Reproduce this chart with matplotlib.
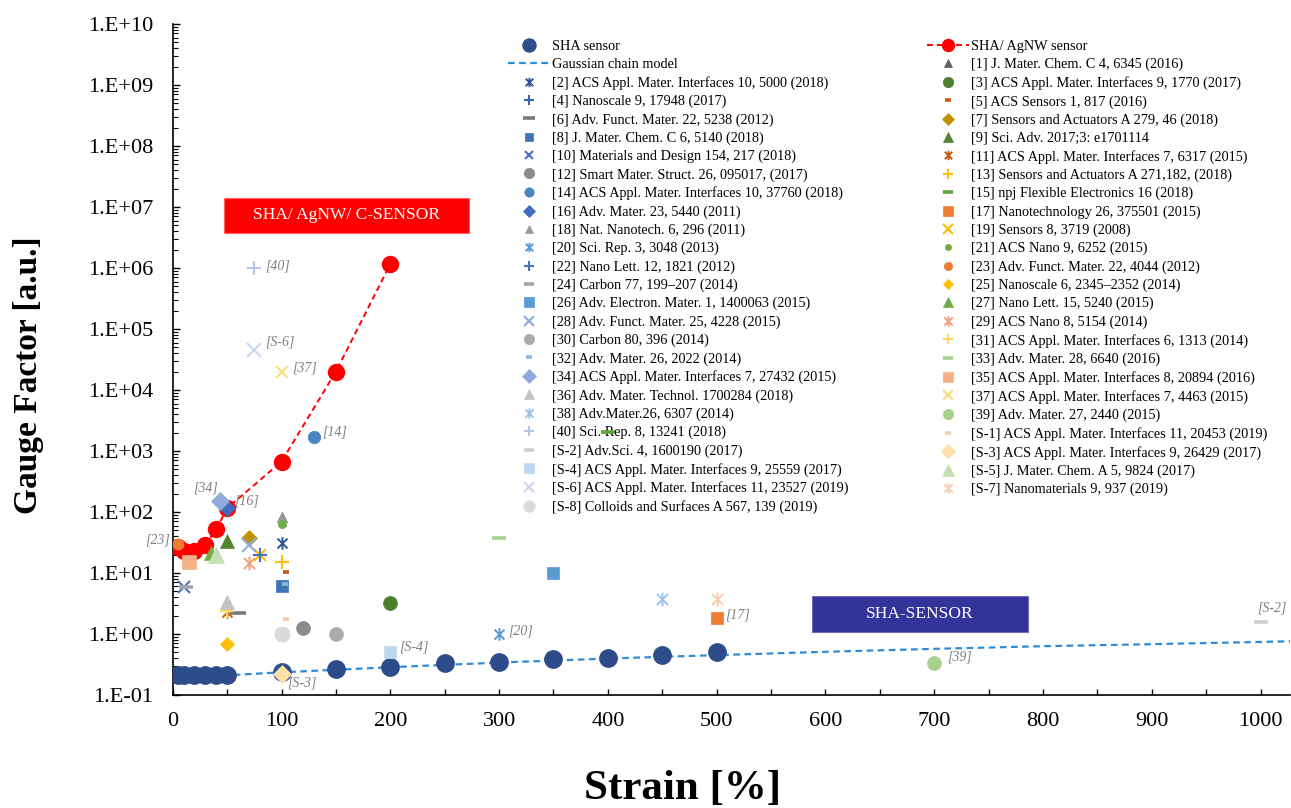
import math
import matplotlib
matplotlib.use("Agg")
import matplotlib.pyplot as plt
from matplotlib.path import Path
from matplotlib.patches import Rectangle
from matplotlib.ticker import FuncFormatter, LogLocator, MultipleLocator, NullFormatter

plt.rcParams['font.family'] = ['Liberation Serif', 'DejaVu Serif']

# ---- SHA sensor (measured) ----
sha_strain = [5, 10, 20, 30, 40, 50, 100, 150, 200, 250, 300, 350, 400, 450, 500]
sha_gf = [0.21, 0.21, 0.21, 0.21, 0.215, 0.215, 0.24, 0.27, 0.29, 0.335, 0.35,
          0.385, 0.40, 0.45, 0.50]

# ---- Gaussian chain model ----
gauss_strain = [5, 50, 100, 200, 300, 400, 500, 600, 700, 800, 900, 1000, 1030]
gauss_gf = [0.205, 0.21, 0.235, 0.285, 0.34, 0.395, 0.45, 0.51, 0.57, 0.63,
            0.68, 0.74, 0.76]

# ---- SHA/AgNW sensor ----
agnw_strain = [5, 10, 20, 30, 40, 50, 100, 150, 200]
agnw_gf = [27, 23, 23, 29, 52, 115, 670, 2.0e4, 1.16e6]

# ---- literature values ----
ref_keys = [str(i) for i in range(1, 41)] + ['S-%d' % i for i in range(1, 9)]
ref_sources = [
    "J. Mater. Chem. C 4, 6345 (2016)",
    "ACS Appl. Mater. Interfaces 10, 5000 (2018)",
    "ACS Appl. Mater. Interfaces 9, 1770 (2017)",
    "Nanoscale 9, 17948 (2017)",
    "ACS Sensors 1, 817 (2016)",
    "Adv. Funct. Mater. 22, 5238 (2012)",
    "Sensors and Actuators A 279, 46 (2018)",
    "J. Mater. Chem. C 6, 5140 (2018)",
    "Sci. Adv. 2017;3: e1701114",
    "Materials and Design 154, 217 (2018)",
    "ACS Appl. Mater. Interfaces 7, 6317 (2015)",
    "Smart Mater. Struct. 26, 095017, (2017)",
    "Sensors and Actuators A 271,182, (2018)",
    "ACS Appl. Mater. Interfaces 10, 37760 (2018)",
    "npj Flexible Electronics 16 (2018)",
    "Adv. Mater. 23, 5440 (2011)",
    "Nanotechnology 26, 375501 (2015)",
    "Nat. Nanotech. 6, 296 (2011)",
    "Sensors 8, 3719 (2008)",
    "Sci. Rep. 3, 3048 (2013)",
    "ACS Nano 9, 6252 (2015)",
    "Nano Lett. 12, 1821 (2012)",
    "Adv. Funct. Mater. 22, 4044 (2012)",
    "Carbon 77, 199\u2013207 (2014)",
    "Nanoscale 6, 2345\u20132352 (2014)",
    "Adv. Electron. Mater. 1, 1400063 (2015)",
    "Nano Lett. 15, 5240 (2015)",
    "Adv. Funct. Mater. 25, 4228 (2015)",
    "ACS Nano 8, 5154 (2014)",
    "Carbon 80, 396 (2014)",
    "ACS Appl. Mater. Interfaces 6, 1313 (2014)",
    "Adv. Mater. 26, 2022 (2014)",
    "Adv. Mater. 28, 6640 (2016)",
    "ACS Appl. Mater. Interfaces 7, 27432 (2015)",
    "ACS Appl. Mater. Interfaces 8, 20894 (2016)",
    "Adv. Mater. Technol. 1700284 (2018)",
    "ACS Appl. Mater. Interfaces 7, 4463 (2015)",
    "Adv.Mater.26, 6307 (2014)",
    "Adv. Mater. 27, 2440 (2015)",
    "Sci. Rep. 8, 13241 (2018)",
    "ACS Appl. Mater. Interfaces 11, 20453 (2019)",
    "Adv.Sci. 4, 1600190 (2017)",
    "ACS Appl. Mater. Interfaces 9, 26429 (2017)",
    "ACS Appl. Mater. Interfaces 9, 25559 (2017)",
    "J. Mater. Chem. A 5, 9824 (2017)",
    "ACS Appl. Mater. Interfaces 11, 23527 (2019)",
    "Nanomaterials 9, 937 (2019)",
    "Colloids and Surfaces A 567, 139 (2019)",
]
ref_strain = [100, 100, 200, 80, 104, 60, 70, 100, 50, 10,
              50, 120, 100, 130, 400, 50, 500, 100, 80, 300,
              100, 80, 5, 12, 50, 350, 35, 70, 70, 150,
              50, 103, 300, 43, 15, 50, 100, 450, 700, 75,
              104, 1000, 100, 200, 40, 75, 500, 100]
ref_gf = [82, 31, 3.2, 20, 10.5, 2.2, 38, 6.1, 33, 5.8,
          2.3, 1.24, 15, 1700, 2070, 115, 1.8, 82, 20, 1.0,
          64, 20, 30, 5.8, 0.69, 10, 21, 29, 14.5, 1.0,
          2.4, 6.6, 38, 150, 15, 3.4, 2.0e4, 3.75, 0.34, 1.0e6,
          1.75, 1.55, 0.22, 0.51, 20, 4.6e4, 3.75, 1.0]

# marker shape, colour, size for each reference
STAR = Path([(-1, -1), (1, 1), (-1, 1), (1, -1), (0, -1.25), (0, 1.25)],
            [Path.MOVETO, Path.LINETO, Path.MOVETO, Path.LINETO,
             Path.MOVETO, Path.LINETO])
ref_style = [
    ('^', '#606060', 7), (STAR, '#2F5597', 9), ('o', '#4E7D2C', 10), ('+', '#3D64B4', 10),
    ('dot', '#C55A11', 5), ('_', '#7A7A7A', 11), ('D', '#BF9000', 8), ('s', '#3F75B5', 8),
    ('^', '#548235', 10), ('x', '#4A72C0', 8), (STAR, '#C55A11', 9), ('o', '#8C8C8C', 10),
    ('+', '#FFC000', 10), ('o', '#4A86C2', 9), ('_', '#5FA33A', 10), ('D', '#3E6CC0', 8),
    ('s', '#ED7D31', 9), ('^', '#9A9A9A', 7), ('x', '#FFC000', 9), (STAR, '#5B9BD5', 9),
    ('o', '#70AD47', 6), ('+', '#4472C4', 9), ('o', '#ED7D31', 8), ('_', '#A5A5A5', 10),
    ('D', '#FFC000', 7), ('s', '#5B9BD5', 9), ('^', '#70AD47', 10), ('x', '#8FAADC', 10),
    (STAR, '#F4A07A', 10), ('o', '#ABABAB', 10), ('+', '#FFD966', 10), ('dot', '#8FB6E0', 5),
    ('_', '#A9D18E', 10), ('D', '#8FAADC', 9), ('s', '#F4B183', 10), ('^', '#C3C3C3', 10),
    ('x', '#FFDB80', 9), (STAR, '#9DC3E6', 10), ('o', '#A9D18E', 10), ('+', '#B4C7E7', 10),
    ('dot', '#F8CBAD', 5), ('_', '#D0D0D0', 10), ('D', '#FFDFAA', 9), ('s', '#BDD7EE', 9),
    ('^', '#C5E0B4', 12), ('x', '#CDD6EE', 10), (STAR, '#F8CBAD', 10), ('o', '#DBDBDB', 11),
]

# callout positions (pixel offsets from the point, alignment)
callouts = {
    '40': (11, 2, 'left'), 'S-6': (11, 7.5, 'left'), '37': (11, 4, 'left'),
    '14': (8, 5, 'left'), '34': (-14, 13, 'center'), '16': (7.5, 7.5, 'left'),
    '23': (-8, 4, 'right'), 'S-3': (6, -8.7, 'left'), 'S-4': (9, 5, 'left'),
    '20': (9, 3, 'left'), '17': (9, 3, 'left'), '39': (13, 6, 'left'),
    'S-2': (-3, 14, 'left'),
}

fig = plt.figure(figsize=(12.91, 8.08), dpi=100)
ax = fig.add_axes([0.1338, 0.1399, 0.8654, 0.8304])

ax.set_yscale('log')
ax.set_ylim(1e-1, 1e10)
ax.set_xlim(0, 1027)

h_gauss, = ax.plot(gauss_strain, gauss_gf, ls=(0, (3, 2)), color='#2E8BD8', lw=1.6,
                   zorder=2, label='Gaussian chain model')
h_sha, = ax.plot(sha_strain, sha_gf, ls='none', marker='o', ms=12.5, color='#2D4C8A',
                 mec='#2D4C8A', zorder=3, label='SHA sensor')
h_agnw, = ax.plot(agnw_strain, agnw_gf, ls=(0, (3, 2)), lw=1.4, color='#FF0000',
                  marker='o', ms=11.5, mec='#FF0000', zorder=3, label='SHA/ AgNW sensor')

ref_handles = {}
for i, key in enumerate(ref_keys):
    m, c, s = ref_style[i]
    kw = dict(ls='none', color=c, zorder=4 + i * 0.01)
    if m in ('dot', '_'):
        kw.update(marker='_', ms=s, mew=2.6)
    elif m in ('x', '+'):
        kw.update(marker=m, ms=s, mew=1.5)
    elif m is STAR:
        kw.update(marker=m, ms=s, mew=1.4, mfc='none')
    else:
        kw.update(marker=m, ms=s, mec=c, mew=0.5)
    h, = ax.plot([ref_strain[i]], [ref_gf[i]],
                 label='[%s] %s' % (key, ref_sources[i]), **kw)
    ref_handles[key] = h
    if key in callouts:
        dx, dy, ha = callouts[key]
        ax.annotate('[%s]' % key, xy=(ref_strain[i], ref_gf[i]),
                    xytext=(dx * 0.72, dy * 0.72), textcoords='offset points',
                    ha=ha, va='center', fontsize=10, style='italic',
                    color='#7F7F7F', zorder=6)

# axes styling
for side in ('top', 'right'):
    ax.spines[side].set_visible(False)
for side in ('left', 'bottom'):
    ax.spines[side].set_linewidth(1.2)

ax.yaxis.set_major_locator(LogLocator(base=10, numticks=20))
ax.yaxis.set_minor_locator(LogLocator(base=10, subs=range(2, 10), numticks=20))
ax.yaxis.set_minor_formatter(NullFormatter())
ax.yaxis.set_major_formatter(FuncFormatter(lambda v, p: '1.E%+03d' % round(math.log10(v))))
ax.xaxis.set_major_locator(MultipleLocator(100))
ax.xaxis.set_minor_locator(MultipleLocator(50))
ax.tick_params(axis='y', which='major', direction='in', length=5, width=1.0,
               labelsize=16, pad=14)
ax.tick_params(axis='y', which='minor', direction='in', length=3.5, width=0.8)
ax.tick_params(axis='x', which='both', direction='in', length=4, width=1.0,
               labelsize=16, pad=12)

ax.set_xlabel('Strain [%]', fontsize=31, fontweight='bold')
ax.set_ylabel('Gauge Factor [a.u.]', fontsize=24, fontweight='bold')
ax.xaxis.set_label_coords(0.4567, -0.1400)
ax.yaxis.set_label_coords(-0.1295, 0.477)
ax.xaxis.label.set_va('center')
ax.yaxis.label.set_va('center')

# highlighted region labels
ax.add_patch(Rectangle((0.0459, 0.6885), 0.2193, 0.0522, transform=ax.transAxes,
                       facecolor='#FF0000', edgecolor='#FF6060', lw=0.8, zorder=5))
ax.text(0.0459 + 0.2193 / 2, 0.6885 + 0.0522 / 2, 'SHA/ AgNW/ C-SENSOR',
        transform=ax.transAxes, ha='center', va='center', color='white',
        fontsize=12.5, zorder=6)
ax.add_patch(Rectangle((0.5719, 0.0939), 0.1936, 0.0537, transform=ax.transAxes,
                       facecolor='#333399', edgecolor='#6F6FB8', lw=0.8, zorder=5))
ax.text(0.5719 + 0.1936 / 2, 0.0939 + 0.0537 / 2, 'SHA-SENSOR',
        transform=ax.transAxes, ha='center', va='center', color='white',
        fontsize=12.5, zorder=6)

# two-column legend, built as two independent blocks
left_keys = [k for k in ref_keys if int(k.split('-')[-1]) % 2 == 0]
right_keys = [k for k in ref_keys if k not in left_keys]
left_handles = [h_sha, h_gauss] + [ref_handles[k] for k in left_keys]
right_handles = [h_agnw] + [ref_handles[k] for k in right_keys]

leg_kw = dict(frameon=False, fontsize=10.3, handlelength=2.94, handletextpad=0.12,
              labelspacing=0.34, borderpad=0, borderaxespad=0, markerscale=0.75,
              numpoints=1, loc='upper left')
leg1 = ax.legend(handles=left_handles, labels=[h.get_label() for h in left_handles],
                 bbox_to_anchor=(0.300, 0.976), **leg_kw)
ax.add_artist(leg1)
leg2 = ax.legend(handles=right_handles, labels=[h.get_label() for h in right_handles],
                 bbox_to_anchor=(0.675, 0.976), **leg_kw)
for leg in (leg1, leg2):
    leg.set_zorder(1)

fig.savefig('out.png', dpi=100, facecolor='white')
